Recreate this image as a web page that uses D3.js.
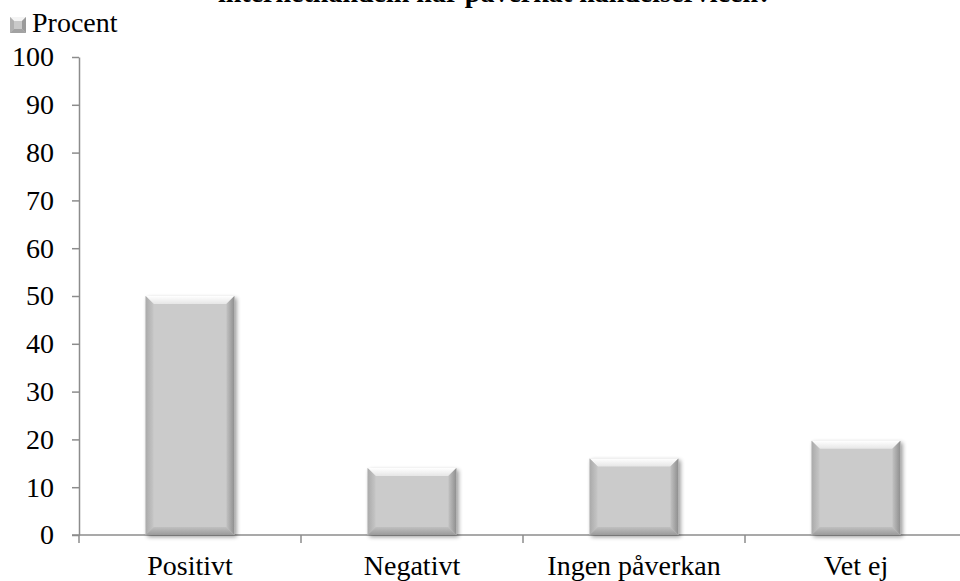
<!DOCTYPE html>
<html>
<head>
<meta charset="utf-8">
<script src="https://cdn.jsdelivr.net/npm/d3@7"></script>
<style>
  html, body { margin: 0; padding: 0; background: #fff; }
  svg { display: block; }
  text { font-family: "Liberation Serif", "Times New Roman", serif; fill: #000; }
</style>
</head>
<body>
<svg id="chart" width="960" height="581"></svg>
<script>
// Survey answers, share of respondents (percent)
const categories = ["Positivt", "Negativt", "Ingen påverkan", "Vet ej"];
const values = [50, 14, 16, 19.7];
const yTicks = [0, 10, 20, 30, 40, 50, 60, 70, 80, 90, 100];
const seriesName = "Procent";
const title = "internethandeln har påverkat handelservicen?";

const svg = d3.select("#chart");
const W = 960, H = 581;
const m = { left: 79, top: 57, bottom: 535, right: 967 };

const x = d3.scaleBand().domain(categories).range([m.left, m.right]).paddingInner(0.6).paddingOuter(0.3);
const xBound = d3.scaleBand().domain(categories).range([m.left, m.right]);
const y = d3.scaleLinear().domain([0, 100]).range([m.bottom, m.top]);

const defs = svg.append("defs");
const shadow = defs.append("filter").attr("id", "shadow").attr("x", "-20%").attr("y", "-20%").attr("width", "140%").attr("height", "140%");
shadow.append("feGaussianBlur").attr("in", "SourceAlpha").attr("stdDeviation", 2);
shadow.append("feOffset").attr("dx", 1.5).attr("dy", 1.5).attr("result", "off");
shadow.append("feComponentTransfer").append("feFuncA").attr("type", "linear").attr("slope", 0.4);
const merge = shadow.append("feMerge");
merge.append("feMergeNode");
merge.append("feMergeNode").attr("in", "SourceGraphic");

function grad(id, x2, y2, stops) {
  const g = defs.append("linearGradient").attr("id", id)
    .attr("x1", 0).attr("y1", 0).attr("x2", x2).attr("y2", y2);
  stops.forEach(([o, c]) => g.append("stop").attr("offset", o).attr("stop-color", c));
}
grad("gTop", 0, 1, [[0, "#ffffff"], [1, "#e6e6e6"]]);
grad("gLeft", 1, 0, [[0, "#aaaaaa"], [1, "#c6c6c6"]]);
grad("gRight", 1, 0, [[0, "#c2c2c2"], [1, "#8e8e8e"]]);
grad("gBottom", 0, 1, [[0, "#c0c0c0"], [1, "#9a9a9a"]]);

// Title (top of the text runs past the page edge)
svg.append("text").attr("x", 495).attr("y", 2).attr("text-anchor", "middle")
  .style("font-weight", "bold").style("font-size", "28px").text(title);

// Legend
const leg = svg.append("g").attr("transform", "translate(10,17)");
const sw = 16, b = 4;
leg.append("rect").attr("width", sw).attr("height", sw).attr("fill", "#c9c9c9");
leg.append("polygon").attr("points", `0,0 ${sw},0 ${sw - b},${b} ${b},${b}`).attr("fill", "#f4f4f4");
leg.append("polygon").attr("points", `0,0 ${b},${b} ${b},${sw - b} 0,${sw}`).attr("fill", "#b0b0b0");
leg.append("polygon").attr("points", `${sw},0 ${sw},${sw} ${sw - b},${sw - b} ${sw - b},${b}`).attr("fill", "#9a9a9a");
leg.append("polygon").attr("points", `0,${sw} ${b},${sw - b} ${sw - b},${sw - b} ${sw},${sw}`).attr("fill", "#a2a2a2");
leg.append("text").attr("x", 22).attr("y", 15).style("font-size", "28px").text(seriesName);

// Y axis
const yAxis = d3.axisLeft(y).tickValues(yTicks).tickSize(7).tickPadding(18).tickSizeOuter(0);
const gy = svg.append("g").attr("transform", `translate(${m.left},0)`).call(yAxis);
gy.select(".domain").attr("stroke", "#8c8c8c").attr("stroke-width", 1.5);
gy.selectAll(".tick line").attr("stroke", "#8c8c8c").attr("stroke-width", 1.5);
gy.selectAll(".tick text").style("font-size", "28px").attr("font-family", null).attr("fill", "#000");

// X axis baseline and category separators
svg.append("line").attr("x1", m.left - 7).attr("x2", W).attr("y1", y(0)).attr("y2", y(0))
  .attr("stroke", "#8c8c8c").attr("stroke-width", 1.5);
const seps = categories.map(c => xBound(c));
svg.selectAll("line.sep").data(seps).join("line").attr("class", "sep")
  .attr("x1", d => d).attr("x2", d => d).attr("y1", y(0)).attr("y2", y(0) + 8)
  .attr("stroke", "#8c8c8c").attr("stroke-width", 1.5);

svg.selectAll("text.cat").data(categories).join("text").attr("class", "cat")
  .attr("x", d => x(d) + x.bandwidth() / 2).attr("y", 575).attr("text-anchor", "middle")
  .style("font-size", "28px").text(d => d);

// Bevelled bars
const bev = 8;
const bars = svg.selectAll("g.bar").data(categories.map((c, i) => ({ c, v: values[i] })))
  .join("g").attr("class", "bar").attr("filter", "url(#shadow)");
bars.each(function (d) {
  const g = d3.select(this);
  const x0 = x(d.c), x1 = x0 + x.bandwidth();
  const y0 = y(d.v), y1 = y(0);
  const k = Math.min(bev, (y1 - y0) / 2);
  g.append("rect").attr("x", x0).attr("y", y0).attr("width", x1 - x0).attr("height", y1 - y0).attr("fill", "#cbcbcb");
  g.append("polygon").attr("points", `${x0},${y0} ${x1},${y0} ${x1 - k},${y0 + k} ${x0 + k},${y0 + k}`).attr("fill", "url(#gTop)");
  g.append("polygon").attr("points", `${x0},${y0} ${x0 + k},${y0 + k} ${x0 + k},${y1 - k} ${x0},${y1}`).attr("fill", "url(#gLeft)");
  g.append("polygon").attr("points", `${x1},${y0} ${x1},${y1} ${x1 - k},${y1 - k} ${x1 - k},${y0 + k}`).attr("fill", "url(#gRight)");
  g.append("polygon").attr("points", `${x0},${y1} ${x0 + k},${y1 - k} ${x1 - k},${y1 - k} ${x1},${y1}`).attr("fill", "url(#gBottom)");
});
</script>
</body>
</html>
